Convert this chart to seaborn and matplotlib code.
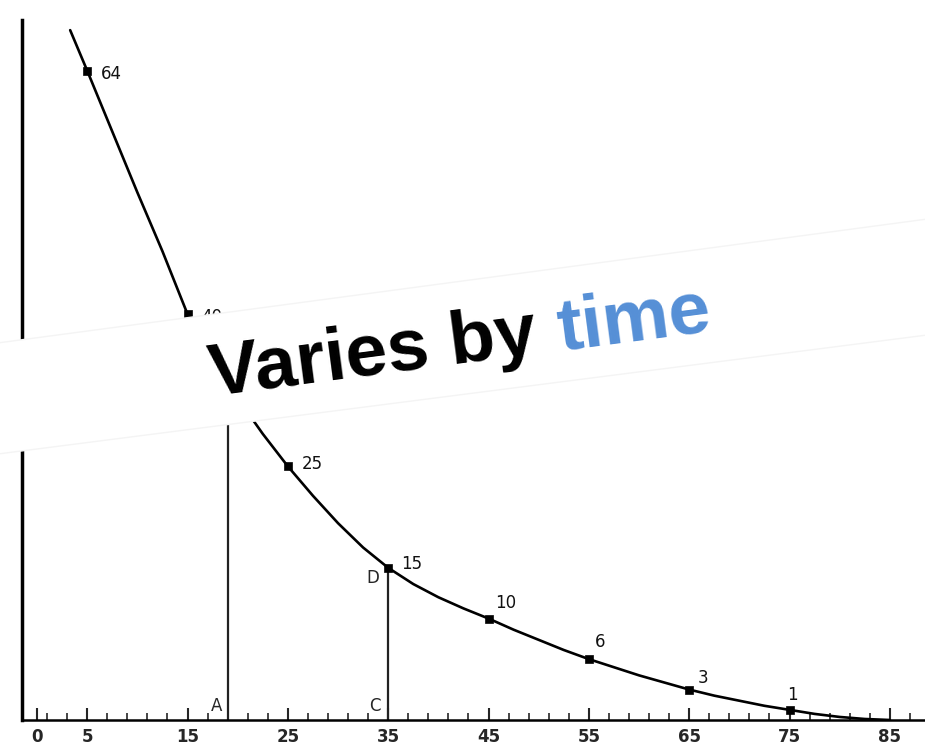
import numpy as np
import pandas as pd
import matplotlib.pyplot as plt
import seaborn as sns
from matplotlib.patches import Polygon

# labelled points on the curve
point_x = [5, 15, 25, 35, 45, 55, 65, 75]
point_y = [64, 40, 25, 15, 10, 6, 3, 1]
point_labels = ['64', '40', '25', '15', '10', '6', '3', '1']

# curve (includes the labelled points)
curve_x = [3.3, 5, 7.5, 10, 12.5, 15, 17.5, 20, 22.5, 25, 27.5, 30, 32.5, 35,
           37.5, 40, 42.5, 45, 47.5, 50, 52.5, 55, 57.5, 60, 62.5, 65, 67.5,
           70, 72.5, 75, 77.5, 80, 82.5, 85]
curve_y = [68, 64, 58, 52, 46.2, 40, 35.5, 31.7, 28.2, 25, 22.1, 19.4, 17.0, 15,
           13.4, 12.1, 11, 10, 8.9, 7.9, 6.9, 6, 5.2, 4.4, 3.7, 3, 2.4,
           1.9, 1.4, 1, 0.6, 0.3, 0.1, 0]

# vertical guide lines (A at x=19, C-D at x=35)
guide_x = [19, 35]
guide_top = [33.2, 15]

major_ticks = [0, 5, 15, 25, 35, 45, 55, 65, 75, 85]
minor_ticks = list(range(1, 88, 2))

sns.set_style('white')
plt.rcParams['font.family'] = ['DejaVu Sans']

fig = plt.figure(figsize=(9.25, 7.53), dpi=100)
ax = fig.add_axes([22 / 925, 33 / 753, 903 / 925, 700 / 753])

curve = pd.DataFrame({'x': curve_x, 'y': curve_y})
points = pd.DataFrame({'x': point_x, 'y': point_y})

sns.lineplot(data=curve, x='x', y='y', ax=ax, color='black', linewidth=1.9,
             sort=False, estimator=None)
sns.scatterplot(data=points, x='x', y='y', ax=ax, color='black', marker='s',
                s=36, edgecolor='black', zorder=5)

ax.vlines(guide_x, 0, guide_top, color='#222222', linewidth=1.6)

# point labels
offsets = [(10, -2), (10, -2), (10, 2), (9, 3), (5, 11), (4, 12), (6, 8), (-2, 11)]
for x, y, lab, off in zip(point_x, point_y, point_labels, offsets):
    ax.annotate(lab, (x, y), xytext=off, textcoords='offset points',
                fontsize=12, ha='left', va='center', color='#111111')

ax.annotate('A', (19, 0), xytext=(-12, 10), textcoords='offset points',
            fontsize=12, ha='left', va='center')
ax.annotate('C', (35, 0), xytext=(-14, 10), textcoords='offset points',
            fontsize=12, ha='left', va='center')
ax.annotate('D', (35, 15), xytext=(-16, -7), textcoords='offset points',
            fontsize=12, ha='left', va='center')

ax.set_xlim(-1.5, 88.5)
ax.set_ylim(0, 69)
ax.set_xticks(major_ticks)
ax.set_xticks(minor_ticks, minor=True)
ax.set_xticklabels([str(t) for t in major_ticks], fontsize=12, fontweight='bold')
ax.set_yticks([])
ax.tick_params(axis='x', which='major', direction='in', length=9, width=1.5,
               bottom=True, pad=6)
ax.tick_params(axis='x', which='minor', direction='in', length=5, width=1.2,
               bottom=True)
ax.set_xlabel('')
ax.set_ylabel('')
sns.despine(ax=ax)
ax.spines['left'].set_linewidth(2.5)
ax.spines['bottom'].set_linewidth(1.8)
ax.spines['left'].set_color('black')
ax.spines['bottom'].set_color('black')

# slanted white band with overlay caption
band_px = [(-10, 344), (935, 218), (935, 334), (-10, 455)]
band = Polygon([(x / 925, 1 - y / 753) for x, y in band_px], closed=True,
               transform=fig.transFigure, facecolor='white',
               edgecolor='#f4f4f4', linewidth=1, zorder=10)
fig.add_artist(band)

angle = 7.5
start = (212 / 925, 1 - 396 / 753)
style = dict(fontsize=54, fontweight='bold', family='Liberation Sans',
             ha='left', va='baseline', rotation_mode='anchor', zorder=11)

renderer = fig.canvas.get_renderer()
full = fig.text(0, 0, 'Varies by time', **style)
tail = fig.text(0, 0, 'time', **style)
w_full = full.get_window_extent(renderer).width
w_tail = tail.get_window_extent(renderer).width
full.remove()
tail.remove()
shift = w_full - w_tail

fig.text(start[0], start[1], 'Varies by', color='black', rotation=angle, **style)
dx = shift * np.cos(np.radians(angle)) / fig.bbox.width
dy = shift * np.sin(np.radians(angle)) / fig.bbox.height
fig.text(start[0] + dx, start[1] + dy, 'time', color='#558fd6', rotation=angle, **style)

fig.savefig('out.png', dpi=100)
